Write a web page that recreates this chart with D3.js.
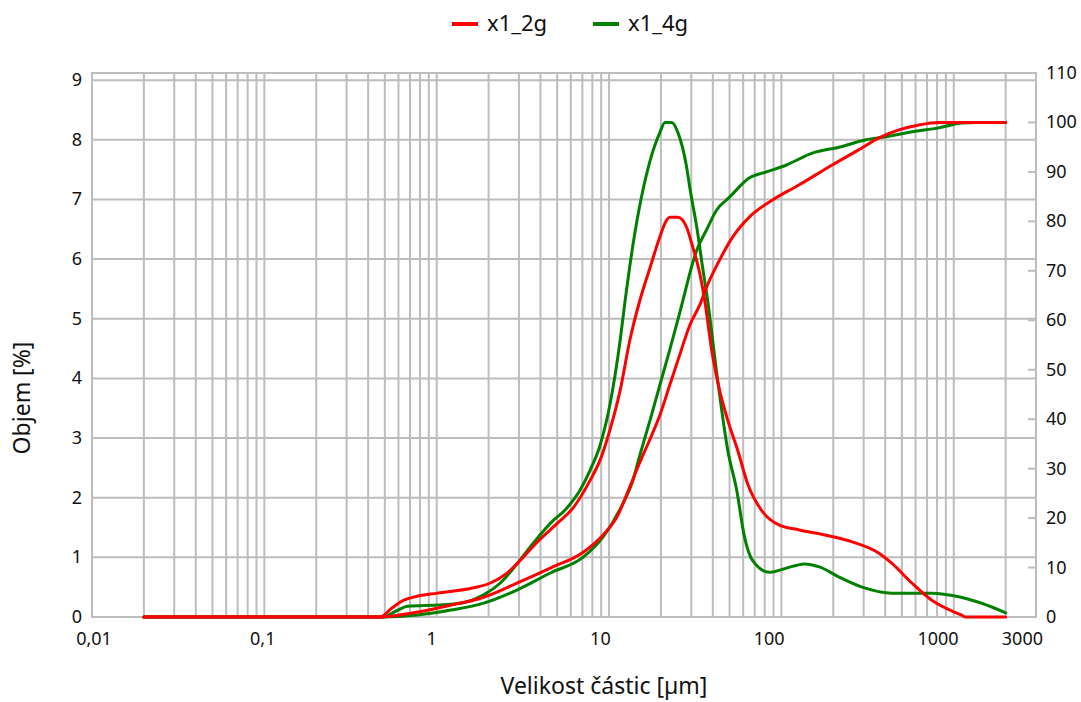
<!DOCTYPE html>
<html>
<head>
<meta charset="utf-8">
<script src="https://cdn.jsdelivr.net/npm/d3@7"></script>
<style>
  html, body { margin: 0; padding: 0; background: #fff; }
  text { font-family: "Noto Sans", "Open Sans", sans-serif; fill: #111; }
</style>
</head>
<body>
<svg id="chart" width="1081" height="702"></svg>
<script>
// ---- data (size in µm, value) ----
const seriesNames = ["x1_2g", "x1_4g"];
const seriesColors = ["#ff0000", "#008000"];

// volume density [%] (left axis)
const density_x1_2g = [
  [0.02,0],[0.47,0],[0.55,0.15],[0.64,0.28],[0.75,0.34],[1.01,0.40],[1.64,0.49],[2.05,0.57],
  [2.57,0.74],[2.94,0.90],[3.84,1.26],[5.0,1.57],[6.19,1.83],[7.76,2.29],[8.87,2.63],
  [10.1,3.13],[11.6,3.80],[13.2,4.64],[15.1,5.31],[17.3,5.86],[19.7,6.37],[21.1,6.60],
  [22.5,6.70],[25.1,6.70],[28.2,6.53],[30.6,6.20],[33.6,5.76],[35.9,5.31],[39.4,4.47],
  [43.8,3.80],[48.8,3.30],[55.7,2.80],[63.6,2.24],[76.6,1.79],[97.3,1.54],[127,1.46],
  [182,1.37],[257,1.26],[368,1.07],[438,0.90],[571,0.57],[746,0.28],[1112,0.03],[1173,0],[2000,0]
];
const density_x1_4g = [
  [0.02,0],[0.49,0],[0.58,0.10],[0.68,0.18],[1.01,0.20],[1.38,0.23],[1.87,0.37],[2.34,0.57],
  [2.94,0.90],[3.64,1.24],[4.56,1.57],[5.71,1.83],[6.79,2.13],[7.76,2.46],[8.87,2.88],
  [10.1,3.55],[11.6,4.64],[12.4,5.31],[13.8,6.26],[17.3,7.65],[19.7,8.12],[21.1,8.29],
  [23.1,8.29],[25.1,8.12],[28.2,7.54],[29.4,7.20],[32.3,6.53],[34.9,5.86],[37.3,5.31],
  [42.1,4.1],[48.8,2.80],[55.0,2.13],[61.1,1.34],[68.0,0.95],[85.3,0.75],[107,0.82],
  [136,0.89],[166,0.84],[216,0.67],[294,0.50],[438,0.40],[746,0.40],[1069,0.34],[1452,0.23],[2000,0.07]
];
// cumulative volume [%] (right axis)
const cumulative_x1_2g = [
  [0.02,0],[0.47,0],[0.776,1.0],[1.21,2.4],[1.87,4.0],[2.94,6.9],[4.56,9.9],[7.08,13.1],
  [9.23,16.6],[11.1,20.2],[13.2,26.3],[15.1,31.3],[17.3,36.0],[19.7,40.8],[22.5,46.9],
  [25.7,53.0],[29.4,59.0],[33.6,63.1],[36.8,66.7],[43.8,72.2],[52.1,76.8],[65.3,80.9],
  [88.7,84.3],[127,87.4],[197,91.4],[282,94.5],[368,96.9],[481,98.5],[628,99.5],[818,100],[2000,100]
];
const cumulative_x1_4g = [
  [0.02,0],[0.49,0],[0.776,0.4],[1.21,1.4],[1.87,2.8],[2.94,5.5],[4.56,8.9],[7.08,12.1],
  [9.23,16.2],[12.1,23.1],[13.6,27.1],[15.1,32.8],[17.3,39.8],[19.7,46.9],[22.5,54.0],
  [25.7,61.5],[27.5,65.5],[29.4,69.5],[32.3,74.2],[36.8,78.3],[42.1,82.3],[50.0,84.9],
  [65.3,88.8],[81.9,90.0],[107,91.4],[151,93.8],[216,95.0],[310,96.5],[405,97.1],
  [571,98.1],[818,98.9],[1112,99.9],[1340,100],[2000,100]
];

const xTickValues = [0.01, 0.1, 1, 10, 100, 1000, 3000];
const xTickLabels = ["0,01", "0,1", "1", "10", "100", "1000", "3000"];
const leftTicks = [0,1,2,3,4,5,6,7,8,9];
const rightTicks = [0,10,20,30,40,50,60,70,80,90,100,110];
const xTitle = "Velikost částic [µm]";
const yTitle = "Objem [%]";

// ---- layout ----
const svg = d3.select("#chart");
const L = 92, R = 1036, T = 73, B = 617;
const x = d3.scaleLog().domain([0.01, 3000]).range([L, R]);
// tick labels are laid out evenly per decade, slightly tighter than the grid
const xLab = d3.scaleLog().domain([0.01, 1000]).range([94, 938]);
const yL = d3.scaleLinear().domain([0, 9.12]).range([B, T]);
const yR = d3.scaleLinear().domain([0, 110]).range([B, T]);
const gridColor = "#bdbdbd";

// vertical grid lines (minor log positions)
const vLines = [];
for (let e = -2; e <= 3; e++) {
  for (let m = 1; m <= 9; m++) {
    const v = m * Math.pow(10, e);
    if (v >= 0.01 && v <= 3000) vLines.push(v);
  }
}
svg.append("g").selectAll("line").data(vLines).join("line")
  .attr("x1", d => x(d)).attr("x2", d => x(d))
  .attr("y1", T).attr("y2", B)
  .attr("stroke", gridColor).attr("stroke-width", 2);

// horizontal grid lines
svg.append("g").selectAll("line").data(leftTicks).join("line")
  .attr("x1", L).attr("x2", R)
  .attr("y1", d => yL(d)).attr("y2", d => yL(d))
  .attr("stroke", gridColor).attr("stroke-width", 2);

// frame
svg.append("rect").attr("x", L).attr("y", T).attr("width", R - L).attr("height", B - T)
  .attr("fill", "none").attr("stroke", gridColor).attr("stroke-width", 2);

// right axis inward ticks
svg.append("g").selectAll("line").data(rightTicks).join("line")
  .attr("x1", R - 8).attr("x2", R)
  .attr("y1", d => yR(d)).attr("y2", d => yR(d))
  .attr("stroke", gridColor).attr("stroke-width", 2);

// tick labels
const fs = 18;
svg.append("g").selectAll("text").data(leftTicks).join("text")
  .attr("x", 82).attr("y", d => yL(d) + 6)
  .attr("text-anchor", "end").attr("font-size", fs).text(d => d);
svg.append("g").selectAll("text").data(rightTicks).join("text")
  .attr("x", 1046).attr("y", d => yR(d) + 6)
  .attr("text-anchor", "start").attr("font-size", fs).text(d => d);
const last = xTickValues.length - 1;
svg.append("g").selectAll("text").data(xTickValues).join("text")
  .attr("x", (d, i) => i === last ? x(d) + 7 : xLab(d))
  .attr("y", 645)
  .attr("text-anchor", (d, i) => i === last ? "end" : "middle")
  .attr("font-size", fs)
  .text((d, i) => xTickLabels[i]);

// titles
svg.append("text").attr("x", 604).attr("y", 694).attr("text-anchor", "middle")
  .attr("font-size", 23).text(xTitle);
svg.append("text").attr("transform", "translate(30,398) rotate(-90)")
  .attr("text-anchor", "middle").attr("font-size", 23).text(yTitle);

// curves
const lineL = d3.line().x(d => x(d[0])).y(d => yL(d[1])).curve(d3.curveMonotoneX);
const lineR = d3.line().x(d => x(d[0])).y(d => yR(d[1])).curve(d3.curveMonotoneX);
const curves = [
  { data: cumulative_x1_4g, line: lineR, color: seriesColors[1] },
  { data: density_x1_4g, line: lineL, color: seriesColors[1] },
  { data: cumulative_x1_2g, line: lineR, color: seriesColors[0] },
  { data: density_x1_2g, line: lineL, color: seriesColors[0] }
];
svg.append("g").selectAll("path").data(curves).join("path")
  .attr("d", c => c.line(c.data))
  .attr("fill", "none").attr("stroke", c => c.color)
  .attr("stroke-width", 3).attr("stroke-linejoin", "round").attr("stroke-linecap", "round");

// legend
const legendX = [452, 593];
const lg = svg.append("g");
seriesNames.forEach((n, i) => {
  lg.append("line").attr("x1", legendX[i]).attr("x2", legendX[i] + 26)
    .attr("y1", 24).attr("y2", 24).attr("stroke", seriesColors[i]).attr("stroke-width", 4);
  lg.append("text").attr("x", legendX[i] + 35).attr("y", 31)
    .attr("font-size", 22).text(n);
});
</script>
</body>
</html>
